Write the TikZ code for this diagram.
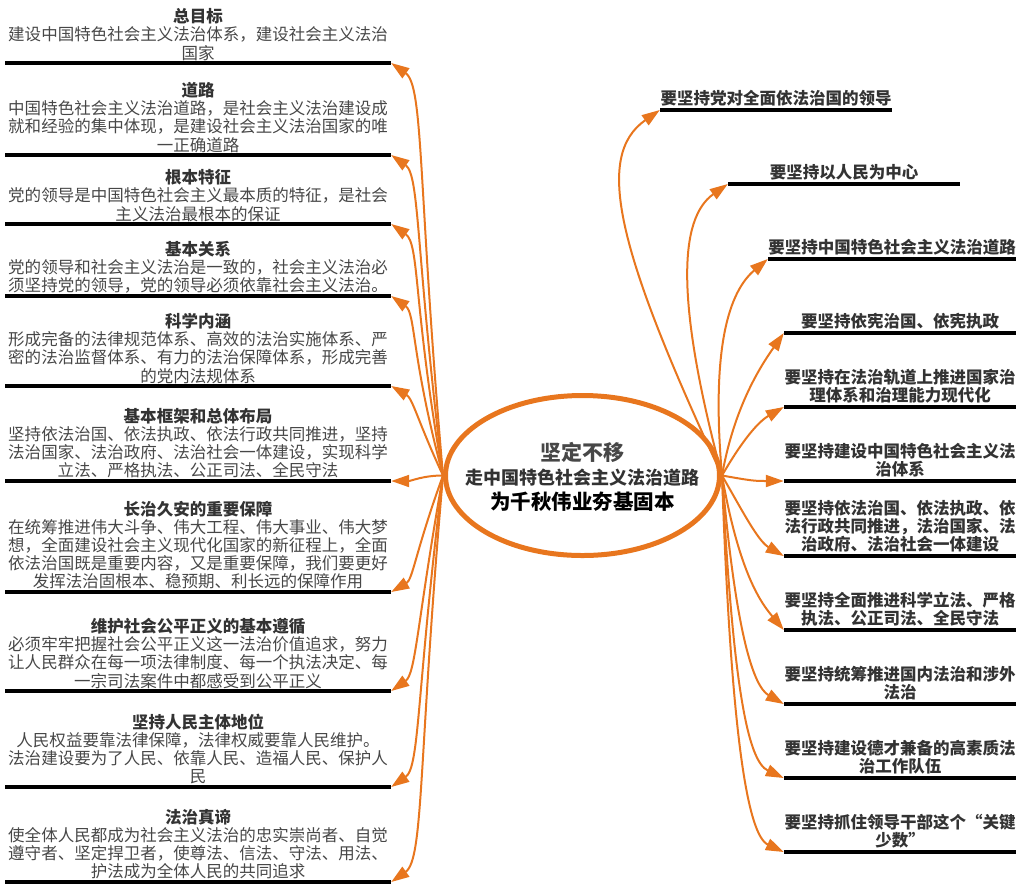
\documentclass[tikz,border=0pt]{standalone}
\usepackage{fontspec}
\setmainfont{Noto Sans CJK SC}
\usetikzlibrary{arrows.meta,shapes.geometric,positioning}
\definecolor{branch}{HTML}{E8761E}
\definecolor{titlegray}{HTML}{333333}
\definecolor{bodygray}{HTML}{474747}
\newcommand\branchtitle[1]{{\bfseries\color{titlegray}#1}}

\begin{document}
\begin{tikzpicture}[x=1pt,y=-1pt,
  hub/.style={ellipse,draw=branch,line width=5pt,minimum width=274pt,minimum height=160pt,inner sep=0pt},
  hubline/.style={inner sep=0pt,text=titlegray,font=\bfseries},
  leftbar/.style={fill=black,inner sep=0pt,minimum width=386pt,minimum height=4.5pt},
  rightbar/.style={fill=black,inner sep=0pt,minimum width=232pt,minimum height=4.5pt},
  lefttext/.style={inner sep=0pt,text width=386pt,align=center,text=bodygray,font=\fontsize{16.5}{18.2}\selectfont},
  righttext/.style={inner sep=0pt,align=center,text=titlegray,font=\fontsize{16.5}{18}\selectfont\bfseries},
  conn/.style={draw=branch,line width=2pt,-{Triangle[length=18pt,width=12pt]}}]
			\useasboundingbox (0,0) rectangle (1024,887);

			% Centre
			\node[hub] (hub) at (582.5,475.5) {};
			\node[hubline,font=\fontsize{21}{24}\selectfont\bfseries,text=bodygray] (hub1) at (582.5,452) {坚定不移};
			\node[hubline,font=\fontsize{18}{22}\selectfont\bfseries] (hub2) at (582.5,478) {走中国特色社会主义法治道路};
			\node[hubline,font=\fontsize{20.5}{24}\selectfont\bfseries,text=black] (hub3) at (582.5,502) {为千秋伟业夯基固本};

			% Left branches
			\node[leftbar] (l1) at (198,63) {};
			\node[lefttext,above=0pt of l1] (t1) {\branchtitle{总目标}\\建设中国特色社会主义法治体系，建设社会主义法治\\国家};
			\node[leftbar] (l2) at (198,155) {};
			\node[lefttext,above=0pt of l2] (t2) {\branchtitle{道路}\\中国特色社会主义法治道路，是社会主义法治建设成\\就和经验的集中体现，是建设社会主义法治国家的唯\\一正确道路};
			\node[leftbar] (l3) at (198,224) {};
			\node[lefttext,above=0pt of l3] (t3) {\branchtitle{根本特征}\\党的领导是中国特色社会主义最本质的特征，是社会\\主义法治最根本的保证};
			\node[leftbar] (l4) at (198,296) {};
			\node[lefttext,above=0pt of l4] (t4) {\branchtitle{基本关系}\\党的领导和社会主义法治是一致的，社会主义法治必\\须坚持党的领导，党的领导必须依靠社会主义法治。};
			\node[leftbar] (l5) at (198,386) {};
			\node[lefttext,above=0pt of l5] (t5) {\branchtitle{科学内涵}\\形成完备的法律规范体系、高效的法治实施体系、严\\密的法治监督体系、有力的法治保障体系，形成完善\\的党内法规体系};
			\node[leftbar] (l6) at (198,481) {};
			\node[lefttext,above=0pt of l6] (t6) {\branchtitle{基本框架和总体布局}\\坚持依法治国、依法执政、依法行政共同推进，坚持\\法治国家、法治政府、法治社会一体建设，实现科学\\立法、严格执法、公正司法、全民守法};
			\node[leftbar] (l7) at (198,592) {};
			\node[lefttext,above=0pt of l7] (t7) {\branchtitle{长治久安的重要保障}\\在统筹推进伟大斗争、伟大工程、伟大事业、伟大梦\\想，全面建设社会主义现代化国家的新征程上，全面\\依法治国既是重要内容，又是重要保障，我们要更好\\发挥法治固根本、稳预期、利长远的保障作用};
			\node[leftbar] (l8) at (198,691) {};
			\node[lefttext,above=0pt of l8] (t8) {\branchtitle{维护社会公平正义的基本遵循}\\必须牢牢把握社会公平正义这一法治价值追求，努力\\让人民群众在每一项法律制度、每一个执法决定、每\\一宗司法案件中都感受到公平正义};
			\node[leftbar] (l9) at (198,787) {};
			\node[lefttext,above=0pt of l9] (t9) {\branchtitle{坚持人民主体地位}\\人民权益要靠法律保障，法律权威要靠人民维护。\\法治建设要为了人民、依靠人民、造福人民、保护人\\民};
			\node[leftbar] (l10) at (198,882) {};
			\node[lefttext,above=0pt of l10] (t10) {\branchtitle{法治真谛}\\使全体人民都成为社会主义法治的忠实崇尚者、自觉\\遵守者、坚定捍卫者，使尊法、信法、守法、用法、\\护法成为全体人民的共同追求};

			% Right branches
			\node[rightbar] (r1) at (776,110) {};
			\node[righttext,above=1.5pt of r1] (s1) {要坚持党对全面依法治国的领导};
			\node[rightbar] (r2) at (844,184) {};
			\node[righttext,above=1.5pt of r2] (s2) {要坚持以人民为中心};
			\node[rightbar,minimum width=248pt] (r3) at (892,259) {};
			\node[righttext,above=1.5pt of r3] (s3) {要坚持中国特色社会主义法治道路};
			\node[rightbar] (r4) at (900,333) {};
			\node[righttext,above=1.5pt of r4] (s4) {要坚持依宪治国、依宪执政};
			\node[rightbar] (r5) at (900,407) {};
			\node[righttext,above=1.5pt of r5] (s5) {要坚持在法治轨道上推进国家治\\理体系和治理能力现代化};
			\node[rightbar] (r6) at (900,481) {};
			\node[righttext,above=1.5pt of r6] (s6) {要坚持建设中国特色社会主义法\\治体系};
			\node[rightbar] (r7) at (900,556) {};
			\node[righttext,above=1.5pt of r7] (s7) {要坚持依法治国、依法执政、依\\法行政共同推进，法治国家、法\\治政府、法治社会一体建设};
			\node[rightbar] (r8) at (900,630) {};
			\node[righttext,above=1.5pt of r8] (s8) {要坚持全面推进科学立法、严格\\执法、公正司法、全民守法};
			\node[rightbar] (r9) at (900,704) {};
			\node[righttext,above=1.5pt of r9] (s9) {要坚持统筹推进国内法治和涉外\\法治};
			\node[rightbar] (r10) at (900,778) {};
			\node[righttext,above=1.5pt of r10] (s10) {要坚持建设德才兼备的高素质法\\治工作队伍};
			\node[rightbar] (r11) at (900,852) {};
			\node[righttext,above=1.5pt of r11] (s11) {要坚持抓住领导干部这个“关键\\少数”};

			% Connectors
			\foreach \b/\o/\p/\i/\q in {l1/-95/290/35/40, l2/-97/225/35/35, l3/-100/175/35/35, l4/-105/125/35/30, l5/-115/60/30/25, l6/180/20/0/20, l7/110/80/-30/25, l8/100/150/-35/30, l9/97/220/-35/35, l10/95/285/-35/40}
				\draw[conn] (hub.west) .. controls +(\o:\p) and +(\i:\q) .. (\b.east);
			\foreach \b/\o/\p/\i/\q in {r1/-115/250/145/80, r2/-105/180/145/60, r3/-95/130/140/50, r4/-80/70/125/40, r5/-60/40/150/30, r6/10/30/180/30, r7/60/40/-150/30, r8/80/100/-130/35, r9/85/160/-150/35, r10/87/210/-155/40, r11/88/260/-155/40}
				\draw[conn] (hub.east) .. controls +(\o:\p) and +(\i:\q) .. (\b.west);
		\end{tikzpicture}
\end{document}
